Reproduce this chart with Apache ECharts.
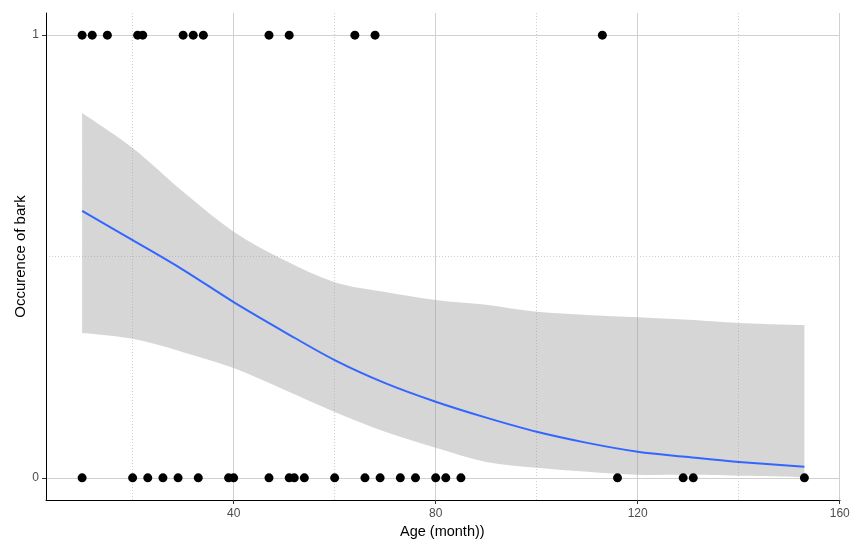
<!DOCTYPE html>
<html>
<head>
<meta charset="utf-8">
<script src="https://cdn.jsdelivr.net/npm/echarts@6/dist/echarts.min.js"></script>
<style>html,body{margin:0;padding:0;background:#fff}#c{width:861px;height:553px}</style>
</head>
<body>
<div id="c"></div>
<script>
// Observations
const ageBark1 = [10, 12, 15, 21, 22, 30, 32, 34, 47, 51, 64, 68, 113];
const ageBark0 = [10, 20, 23, 26, 29, 33, 39, 40, 47, 51, 52, 54, 60, 66, 69, 73, 76, 80, 82, 85, 116, 129, 131, 153];
// Fitted curve and confidence band
const fitX     = [10, 20, 30, 40, 50, 60, 70, 80, 90, 100, 110, 120, 130, 140, 153];
const fitY     = [0.603, 0.537, 0.470, 0.397, 0.330, 0.266, 0.214, 0.172, 0.136, 0.104, 0.079, 0.059, 0.047, 0.036, 0.025];
const fitUpper = [0.824, 0.745, 0.646, 0.556, 0.492, 0.442, 0.420, 0.402, 0.391, 0.375, 0.368, 0.363, 0.357, 0.350, 0.345];
const fitLower = [0.327, 0.314, 0.284, 0.248, 0.199, 0.149, 0.104, 0.068, 0.036, 0.023, 0.014, 0.007, 0.007, 0.005, 0.002];
// Ticks
const xMajor = [40, 80, 120, 160];
const xMinor = [20, 60, 100, 140];
const yMajor = [0, 1];
const yMinor = [0.5];
const xTitle = 'Age (month))';
const yTitle = 'Occurence of bark';

const font = 'Liberation Sans, Arial, sans-serif';
const chart = echarts.init(document.getElementById('c'));

const gridLines = [];
xMajor.forEach(v => gridLines.push({xAxis: v, lineStyle: {color: '#d0d0d0', width: 1, type: 'solid'}}));
xMinor.forEach(v => gridLines.push({xAxis: v, lineStyle: {color: '#cfcfcf', width: 1, type: [1, 2]}}));
yMajor.forEach(v => gridLines.push({yAxis: v, lineStyle: {color: '#d0d0d0', width: 1, type: 'solid'}}));
yMinor.forEach(v => gridLines.push({yAxis: v, lineStyle: {color: '#cfcfcf', width: 1, type: [1, 2]}}));

// Catmull-Rom path through pixel points (rendering helper only)
function crPath(pts, moveFirst) {
  let d = (moveFirst ? 'M' : 'L') + pts[0][0] + ' ' + pts[0][1];
  for (let i = 0; i < pts.length - 1; i++) {
    const p0 = pts[Math.max(0, i - 1)], p1 = pts[i], p2 = pts[i + 1], p3 = pts[Math.min(pts.length - 1, i + 2)];
    const c1 = [p1[0] + (p2[0] - p0[0]) / 6, p1[1] + (p2[1] - p0[1]) / 6];
    const c2 = [p2[0] - (p3[0] - p1[0]) / 6, p2[1] - (p3[1] - p1[1]) / 6];
    d += ' C' + c1[0] + ' ' + c1[1] + ' ' + c2[0] + ' ' + c2[1] + ' ' + p2[0] + ' ' + p2[1];
  }
  return d;
}

chart.setOption({
  animation: false,
  backgroundColor: '#fff',
  grid: {left: 46, right: 21, top: 13, bottom: 53, containLabel: false},
  graphic: [
    {type: 'text', left: 443 - 43, top: 524,
     style: {text: xTitle, font: '14.5px ' + font, fill: '#000'}}
  ],
  xAxis: {
    type: 'value', min: 2.85, max: 160.05,
    axisLine: {show: true, onZero: false, lineStyle: {color: '#000', width: 1}},
    axisTick: {show: true, length: 4, customValues: xMajor, lineStyle: {color: '#333'}},
    axisLabel: {customValues: xMajor, hideOverlap: false, fontFamily: font, fontSize: 12, color: '#4d4d4d', margin: 8},
    splitLine: {show: false}
  },
  yAxis: {
    type: 'value', min: -0.05, max: 1.05,
    name: yTitle, nameLocation: 'middle', nameGap: 18, nameRotate: 90, nameMoveOverlap: false,
    nameTextStyle: {fontFamily: font, fontSize: 15, color: '#000'},
    axisLine: {show: true, onZero: false, lineStyle: {color: '#000', width: 1}},
    axisTick: {show: true, length: 4, customValues: yMajor, lineStyle: {color: '#333'}},
    axisLabel: {customValues: yMajor, hideOverlap: false, fontFamily: font, fontSize: 12, color: '#4d4d4d', margin: 7},
    splitLine: {show: false}
  },
  series: [
    {
      type: 'line', data: [], silent: true, z: 0,
      markLine: {silent: true, symbol: 'none', label: {show: false}, animation: false, z: 0, data: gridLines}
    },
    {
      name: 'band', type: 'custom', silent: true, z: 1,
      data: [0],
      renderItem: function (params, api) {
        const up = fitX.map((x, i) => api.coord([x, fitUpper[i]]));
        const lo = fitX.map((x, i) => api.coord([x, fitLower[i]])).reverse();
        const d = crPath(up, true) + ' ' + crPath(lo, false) + ' Z';
        return {
          type: 'path',
          shape: {pathData: d},
          style: {fill: 'rgba(153,153,153,0.4)', stroke: null}
        };
      }
    },
    {
      name: 'fit', type: 'custom', silent: true, z: 3,
      data: [0],
      renderItem: function (params, api) {
        const pts = fitX.map((x, i) => api.coord([x, fitY[i]]));
        return {
          type: 'path',
          shape: {pathData: crPath(pts, true)},
          style: {fill: null, stroke: '#3366FF', lineWidth: 2}
        };
      }
    },
    {
      name: 'obs1', type: 'scatter', symbolSize: 9, z: 5,
      itemStyle: {color: '#000', opacity: 1},
      data: ageBark1.map(x => [x, 1])
    },
    {
      name: 'obs0', type: 'scatter', symbolSize: 9, z: 5,
      itemStyle: {color: '#000', opacity: 1},
      data: ageBark0.map(x => [x, 0])
    }
  ]
});
</script>
</body>
</html>
